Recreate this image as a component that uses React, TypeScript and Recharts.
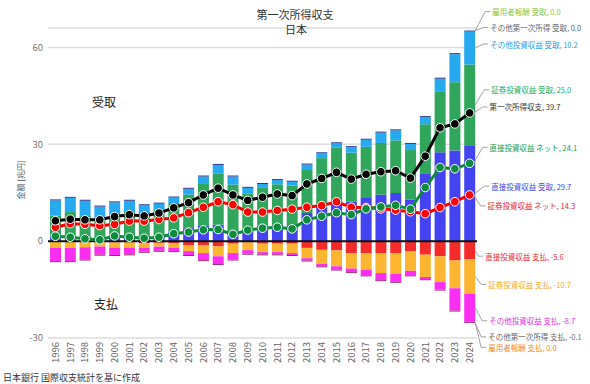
import React from "react";
import { Bar, CartesianGrid, ComposedChart, Line, ReferenceLine, XAxis, YAxis } from "recharts";

const years = [
  "1996", "1997", "1998", "1999", "2000", "2001", "2002", "2003", "2004", "2005",
  "2006", "2007", "2008", "2009", "2010", "2011", "2012", "2013", "2014", "2015",
  "2016", "2017", "2018", "2019", "2020", "2021", "2022", "2023", "2024",
];

// 受取 (兆円)
const directRec = [1.8, 1.5, 1.0, 0.7, 2.0, 1.6, 1.5, 1.7, 2.9, 4.0, 4.7, 5.1, 2.9, 3.7, 4.8, 5.1, 4.6, 8.7, 10.3, 11.9, 12.2, 13.6, 14.4, 14.9, 12.9, 20.8, 27.5, 28.1, 29.7];
const securitiesRec = [6.1, 7.5, 6.8, 6.5, 6.2, 7.4, 7.2, 8.1, 8.9, 10.4, 13.0, 15.9, 14.6, 11.1, 11.7, 12.5, 12.6, 13.6, 15.4, 17.0, 15.2, 15.6, 16.0, 16.3, 15.3, 15.4, 18.7, 21.1, 25.0];
const otherInvRec = [4.7, 4.4, 4.7, 3.5, 3.8, 3.5, 2.4, 1.8, 1.7, 1.8, 2.3, 2.6, 2.5, 1.7, 1.2, 1.3, 1.2, 1.4, 1.5, 1.4, 1.7, 2.2, 3.2, 3.1, 1.9, 2.2, 4.1, 8.7, 10.2];
const otherPrimaryRec = [0.04, 0.04, 0.04, 0.04, 0.04, 0.04, 0.04, 0.04, 0.04, 0.04, 0.04, 0.04, 0.04, 0.04, 0.04, 0.04, 0.04, 0.04, 0.04, 0.04, 0.04, 0.04, 0.04, 0.04, 0.04, 0.04, 0.04, 0.04, 0.04];
const compRec = [0, 0, 0, 0, 0, 0, 0, 0, 0, 0, 0, 0, 0, 0, 0, 0, 0, 0, 0, 0, 0, 0, 0, 0, 0, 0, 0, 0, 0];

// 支払 (兆円)
const directPay = [-0.2, -0.2, -0.2, -0.3, -0.4, -0.4, -0.6, -0.5, -0.6, -1.2, -1.2, -1.6, -0.8, -0.4, -0.8, -0.8, -0.8, -2.1, -2.7, -2.9, -3.7, -3.7, -3.7, -3.7, -3.2, -4.2, -4.7, -6.0, -5.6];
const securitiesPay = [-1.9, -1.9, -1.7, -1.4, -1.6, -1.6, -1.4, -1.2, -1.4, -1.9, -2.5, -3.1, -2.9, -2.4, -2.6, -2.6, -2.9, -3.2, -4.3, -4.9, -4.8, -5.2, -6.2, -6.4, -6.0, -6.9, -8.0, -8.6, -10.7];
const otherInvPay = [-4.1, -4.1, -3.8, -2.5, -2.3, -2.1, -1.3, -1.3, -1.1, -1.2, -2.2, -2.4, -2.0, -1.1, -0.7, -0.7, -0.6, -0.7, -0.8, -1.0, -1.1, -1.7, -2.2, -2.5, -1.4, -0.7, -2.3, -6.9, -8.7];
const otherPrimaryPay = [-0.1, -0.1, -0.1, -0.1, -0.1, -0.1, -0.1, -0.1, -0.1, -0.1, -0.1, -0.1, -0.1, -0.1, -0.1, -0.1, -0.1, -0.1, -0.1, -0.1, -0.1, -0.1, -0.1, -0.1, -0.1, -0.1, -0.1, -0.1, -0.1];
const compPay = [0, 0, 0, 0, 0, 0, 0, 0, 0, 0, 0, 0, 0, 0, 0, 0, 0, 0, 0, 0, 0, 0, 0, 0, 0, 0, 0, 0, 0];

// 収支 (兆円)
const total = [6.3, 6.8, 6.6, 6.6, 7.6, 8.2, 7.8, 8.7, 10.3, 11.9, 14.3, 16.4, 14.3, 12.6, 13.6, 14.6, 14.1, 17.7, 19.4, 21.3, 19.2, 20.7, 21.5, 21.8, 19.5, 26.3, 35.1, 36.3, 39.7];
const directNet = [1.5, 1.2, 0.7, 0.4, 1.6, 1.2, 0.9, 1.2, 2.3, 2.8, 3.5, 3.6, 2.1, 3.4, 4.0, 4.3, 3.8, 6.6, 7.7, 8.8, 8.2, 10.0, 10.6, 11.1, 9.9, 16.6, 22.8, 22.4, 24.1];
const securitiesNet = [4.3, 5.4, 5.2, 4.8, 5.2, 6.2, 6.2, 6.7, 7.2, 8.8, 10.5, 12.2, 11.3, 9.0, 9.0, 9.5, 9.9, 10.5, 11.0, 12.2, 10.5, 10.4, 10.0, 9.6, 9.1, 8.5, 10.4, 12.2, 14.3];

const yTicks = [-30, 0, 30, 60];

const data = years.map((year, i) => ({
  year,
  directRec: directRec[i],
  securitiesRec: securitiesRec[i],
  otherInvRec: otherInvRec[i],
  otherPrimaryRec: otherPrimaryRec[i],
  compRec: compRec[i],
  directPay: directPay[i],
  securitiesPay: securitiesPay[i],
  otherInvPay: otherInvPay[i],
  otherPrimaryPay: otherPrimaryPay[i],
  compPay: compPay[i],
  total: total[i],
  directNet: directNet[i],
  securitiesNet: securitiesNet[i],
}));

const FONT = '"Noto Sans CJK JP", "Noto Sans", sans-serif';
const LAST = years.length - 1;
const fmt = (v: number) => v.toFixed(1);

function Callout({ ax, ay, lx, ly, text, color }: any) {
  return (
    <g>
      <polyline
        points={`${ax},${ay} ${lx - 7},${ly} ${lx - 2},${ly}`}
        fill="none"
        stroke="#9a9a9a"
        strokeWidth={0.9}
      />
      <text x={lx} y={ly} fill={color} fontSize={7.5} fontFamily={FONT} dominantBaseline="central">
        {text}
      </text>
    </g>
  );
}

type Tag = { name: string; values: number[]; color: string; dx: number; dy: number };

// label on the last bar of a series: at="mid" points to the middle of the segment, "far" to its outer end
const barLabel = (tags: Tag[], at: "mid" | "far", neg: boolean) => (props: any) => {
  if (props.index !== LAST) return null;
  const vb = props.viewBox ?? props;
  const x = Number(vb.x);
  const y = Number(vb.y);
  const w = Number(vb.width);
  const h = Number(vb.height);
  const far = neg ? Math.max(y, y + h) : Math.min(y, y + h);
  const ay = at === "mid" ? y + h / 2 : far;
  const ax = x + w;
  return (
    <g>
      {tags.map((t) => (
        <Callout
          key={t.name}
          ax={ax}
          ay={ay}
          lx={ax + t.dx}
          ly={ay + t.dy}
          text={`${t.name}, ${fmt(t.values[LAST])}`}
          color={t.color}
        />
      ))}
    </g>
  );
};

const lineLabel = (name: string, values: number[], color: string, dx: number, dy: number) => (props: any) => {
  if (props.index !== LAST) return null;
  const ax = Number(props.x) + 4;
  const ay = Number(props.y);
  return <Callout ax={ax} ay={ay} lx={ax + dx} ly={ay + dy} text={`${name}, ${fmt(values[LAST])}`} color={color} />;
};

function YearTick({ x, y, payload }: any) {
  return (
    <text
      x={x}
      y={y}
      transform={`rotate(-90 ${x} ${y})`}
      textAnchor="end"
      dy="0.35em"
      fontSize={9.5}
      fill="#666"
      fontFamily={FONT}
    >
      {payload.value}
    </text>
  );
}

export default function App() {
  return (
    <div style={{ position: "relative", width: 590, height: 384, background: "#fff", fontFamily: FONT }}>
      <style>{"body{margin:0}"}</style>
      <ComposedChart
        width={590}
        height={384}
        data={data}
        stackOffset="sign"
        barSize={11}
        margin={{ top: 28, right: 113, bottom: 16, left: 0 }}
      >
        <CartesianGrid vertical={false} stroke="#dddddd" strokeWidth={1.5} />
        <XAxis
          dataKey="year"
          height={30}
          interval={0}
          tickLine={false}
          axisLine={false}
          tickSize={2}
          tickMargin={2}
          tick={<YearTick />}
        />
        <YAxis
          width={48}
          domain={[-30, 66]}
          ticks={yTicks}
          tickLine={false}
          axisLine={false}
          tickSize={3}
          tickMargin={2}
          tick={{ fontSize: 9.5, fill: "#777", fontFamily: FONT }}
        />
        <Bar
          dataKey="directRec"
          stackId="s"
          fill="#4343f2"
          isAnimationActive={false}
          label={barLabel([{ name: "直接投資収益 受取", values: directRec, color: "#4545e6", dx: 16, dy: -7 }], "mid", false)}
        />
        <Bar
          dataKey="securitiesRec"
          stackId="s"
          fill="#2fa65b"
          isAnimationActive={false}
          label={barLabel([{ name: "証券投資収益 受取", values: securitiesRec, color: "#2aa85a", dx: 16, dy: -15 }], "mid", false)}
        />
        <Bar
          dataKey="otherInvRec"
          stackId="s"
          fill="#27a9ef"
          isAnimationActive={false}
          label={barLabel([{ name: "その他投資収益 受取", values: otherInvRec, color: "#1d9fe6", dx: 15, dy: -4 }], "mid", false)}
        />
        <Bar
          dataKey="otherPrimaryRec"
          stackId="s"
          fill="#27348b"
          minPointSize={1}
          isAnimationActive={false}
          label={barLabel(
            [
              { name: "雇用者報酬 受取", values: compRec, color: "#8cc63f", dx: 17, dy: -19 },
              { name: "その他第一次所得 受取", values: otherPrimaryRec, color: "#666", dx: 15, dy: -3 },
            ],
            "far",
            false
          )}
        />
        <Bar dataKey="compRec" stackId="s" fill="#8cc63f" isAnimationActive={false} />
        <Bar
          dataKey="directPay"
          stackId="s"
          fill="#f52a2a"
          isAnimationActive={false}
          label={barLabel([{ name: "直接投資収益 支払", values: directPay, color: "#ea2a2a", dx: 10, dy: 6 }], "mid", true)}
        />
        <Bar
          dataKey="securitiesPay"
          stackId="s"
          fill="#fbb530"
          isAnimationActive={false}
          label={barLabel([{ name: "証券投資収益 支払", values: securitiesPay, color: "#f2ac1c", dx: 13, dy: 8 }], "mid", true)}
        />
        <Bar
          dataKey="otherInvPay"
          stackId="s"
          fill="#f92ef0"
          isAnimationActive={false}
          label={barLabel([{ name: "その他投資収益 支払", values: otherInvPay, color: "#e52fe2", dx: 14, dy: 13 }], "mid", true)}
        />
        <Bar
          dataKey="otherPrimaryPay"
          stackId="s"
          fill="#9b2a6a"
          minPointSize={1}
          isAnimationActive={false}
          label={barLabel(
            [
              { name: "その他第一次所得 支払", values: otherPrimaryPay, color: "#666", dx: 13, dy: 14 },
              { name: "雇用者報酬 支払", values: compPay, color: "#f08a30", dx: 13, dy: 24.5 },
            ],
            "far",
            true
          )}
        />
        <Bar dataKey="compPay" stackId="s" fill="#f08a30" isAnimationActive={false} />
        <ReferenceLine y={0} stroke="#111" strokeWidth={2} />
        <Line
          dataKey="securitiesNet"
          stroke="#ff0000"
          strokeWidth={3}
          dot={{ r: 4.3, fill: "#ff0000", stroke: "#fff", strokeWidth: 1 }}
          isAnimationActive={false}
          label={lineLabel("証券投資収益 ネット", securitiesNet, "#ea2a2a", 14, 11)}
        />
        <Line
          dataKey="directNet"
          stroke="#0c8c3c"
          strokeWidth={3}
          dot={{ r: 4.3, fill: "#0c8c3c", stroke: "#fff", strokeWidth: 1 }}
          isAnimationActive={false}
          label={lineLabel("直接投資収益 ネット", directNet, "#1d9a48", 16, -16)}
        />
        <Line
          dataKey="total"
          stroke="#000"
          strokeWidth={3}
          dot={{ r: 4.3, fill: "#000", stroke: "#fff", strokeWidth: 1 }}
          isAnimationActive={false}
          label={lineLabel("第一次所得収支", total, "#333", 16, -6)}
        />
      </ComposedChart>
      <svg
        width={590}
        height={384}
        style={{ position: "absolute", left: 0, top: 0, pointerEvents: "none" }}
        fontFamily={FONT}
      >
        <text x={295} y={14} textAnchor="middle" dominantBaseline="central" fontSize={11} fill="#333">
          第一次所得収支
        </text>
        <text x={296} y={29} textAnchor="middle" dominantBaseline="central" fontSize={11} fill="#333">
          日本
        </text>
        <text x={104} y={101} textAnchor="middle" dominantBaseline="central" fontSize={12} fill="#222">
          受取
        </text>
        <text x={106} y={303} textAnchor="middle" dominantBaseline="central" fontSize={12} fill="#222">
          支払
        </text>
        <text
          x={20}
          y={180}
          transform="rotate(-90 20 180)"
          textAnchor="middle"
          dominantBaseline="central"
          fontSize={8}
          fill="#555"
        >
          金額 [兆円]
        </text>
        <text x={3} y={377} dominantBaseline="central" fontSize={9} fill="#333">
          日本銀行 国際収支統計を基に作成
        </text>
      </svg>
    </div>
  );
}
